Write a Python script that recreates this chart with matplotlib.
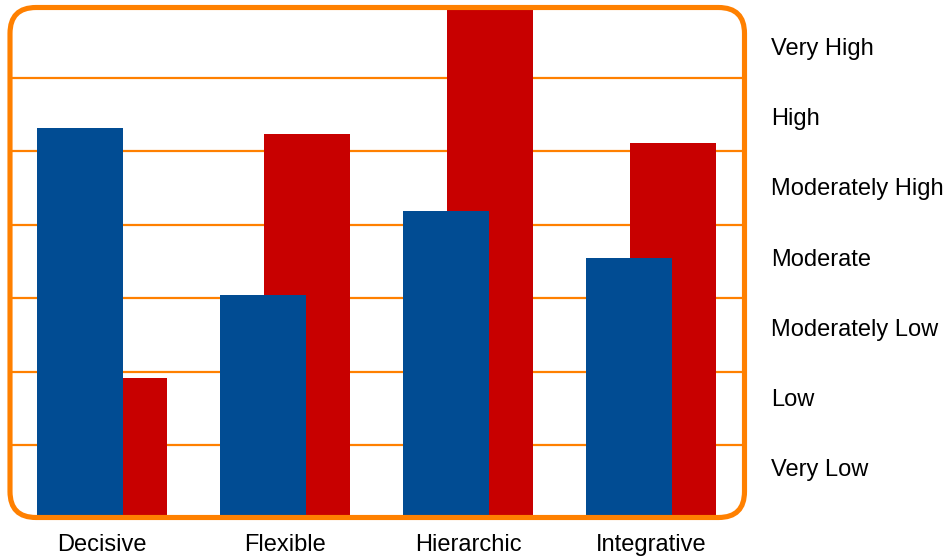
import matplotlib
matplotlib.use("Agg")
import matplotlib.pyplot as plt
import numpy as np
from matplotlib.patches import FancyBboxPatch
from matplotlib.transforms import blended_transform_factory

plt.rcParams['font.family'] = ['Liberation Sans', 'DejaVu Sans']

categories = ['Decisive', 'Flexible', 'Hierarchic', 'Integrative']
blue_values = [5.32, 3.04, 4.19, 3.55]
red_values = [1.91, 5.24, 7.0, 5.11]
levels = ['Very High', 'High', 'Moderately High', 'Moderate',
          'Moderately Low', 'Low', 'Very Low']

ORANGE = '#FF8000'
BLUE = '#014C93'
RED = '#C80000'

W, H = 948, 557
fig = plt.figure(figsize=(W / 100, H / 100), dpi=100)
fig.patch.set_facecolor('white')

# axes placed in pixel terms: left 10, right 743, top 4.6, bottom 518.4
ax = fig.add_axes([10 / W, (H - 518.4) / H, 733 / W, (518.4 - 4.6) / H])
ax.set_xlim(-0.5, 3.5)
ax.set_ylim(0, 7)
for s in ax.spines.values():
    s.set_visible(False)
ax.set_xticks([])
ax.set_yticks([])

for yv in range(1, 7):
    ax.axhline(yv, color=ORANGE, lw=1.6, zorder=1)

x = np.arange(len(categories))
width = 0.47
off = 0.12
ax.bar(x + off, red_values, width, color=RED, lw=0, zorder=2)
ax.bar(x - off, blue_values, width, color=BLUE, lw=0, zorder=3)

# rounded orange frame
frame = FancyBboxPatch((0.10, (H - 517.5) / 100), 7.345, 5.10,
                       boxstyle='round,pad=0,rounding_size=0.26',
                       transform=fig.dpi_scale_trans, facecolor='none',
                       edgecolor=ORANGE, lw=3.7, zorder=10)
fig.add_artist(frame)

# category labels below
trans = blended_transform_factory(ax.transData, fig.transFigure)
for i, c in enumerate(categories):
    ax.text(i, (H - 551) / H, c, transform=trans, ha='center', va='baseline',
            fontsize=17, color='black')

# level labels on the right
for i, lab in enumerate(levels):
    fig.text(771 / W, 1 - (55 + 70.2 * i) / H, lab, ha='left', va='baseline',
             fontsize=17, color='black')

fig.savefig('out.png', dpi=100)
